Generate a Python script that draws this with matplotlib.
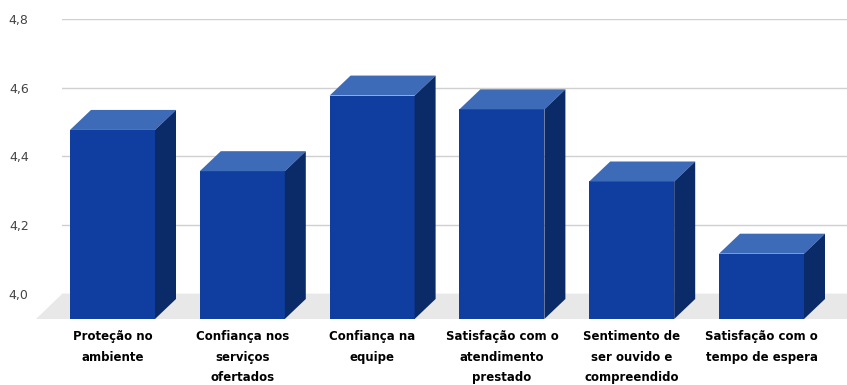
import matplotlib
matplotlib.use("Agg")
import matplotlib.pyplot as plt
from matplotlib.patches import Polygon

# data
categories = ["Proteção no\nambiente", "Confiança nos\nserviços\nofertados",
              "Confiança na\nequipe", "Satisfação com o\natendimento\nprestado",
              "Sentimento de\nser ouvido e\ncompreendido", "Satisfação com o\ntempo de espera"]
values = [4.55, 4.43, 4.65, 4.61, 4.40, 4.19]
yticks = [4.0, 4.2, 4.4, 4.6, 4.8]
ytick_labels = ["4,0", "4,2", "4,4", "4,6", "4,8"]

W, H = 847, 385
front_col = "#0f3ea0"
top_col = "#3e6bb8"
side_col = "#0b2b68"

fig = plt.figure(figsize=(W / 100, H / 100), dpi=100)
# axes = back wall, 4.0 at y=294px, 4.8 at y=19px
ax = fig.add_axes([62 / W, (H - 294) / H, (W - 62) / W, 275 / H])
ax.set_ylim(4.0, 4.8)
step = 129.8            # px between bars
c0 = 112.5              # px centre of first bar front
ax.set_xlim((62 - c0) / step, (W - c0) / step)

px_x = 1 / step         # one pixel in x data units
px_y = 0.8 / 275        # one pixel in y data units

# floor
fd = 25
floor = Polygon([(ax.get_xlim()[0], 4.0), (ax.get_xlim()[1] + 25 * px_x, 4.0),
                 (ax.get_xlim()[1], 4.0 - fd * px_y),
                 (ax.get_xlim()[0] - 26 * px_x, 4.0 - fd * px_y)],
                closed=True, fc="#e8e8e8", ec="none", clip_on=False, zorder=1)
ax.add_patch(floor)

half = 42.5 * px_x
ddx, ddy = 21 * px_x, 20 * px_y
for i, v in enumerate(values):
    x0, x1 = i - half, i + half
    yb = 4.0 - fd * px_y
    yt = v - fd * px_y
    front = Polygon([(x0, yb), (x1, yb), (x1, yt), (x0, yt)], fc=front_col, ec="none",
                    clip_on=False, zorder=3)
    top = Polygon([(x0, yt), (x1, yt), (x1 + ddx, yt + ddy), (x0 + ddx, yt + ddy)],
                  fc=top_col, ec="none", clip_on=False, zorder=3)
    side = Polygon([(x1, yb), (x1 + ddx, yb + ddy), (x1 + ddx, yt + ddy), (x1, yt)],
                   fc=side_col, ec="none", clip_on=False, zorder=3)
    for p in (front, top, side):
        ax.add_patch(p)

ax.set_yticks(yticks)
ax.set_yticklabels(ytick_labels, fontsize=9, color="#444444")
ax.tick_params(axis="y", length=0, pad=24)
ax.grid(axis="y", color="#d0d0d0", linewidth=1, zorder=0)
ax.set_axisbelow(True)

ax.set_xticks(range(len(categories)))
ax.set_xticklabels(categories, fontsize=8.5, fontweight="bold", color="black",
                   linespacing=1.75)
ax.tick_params(axis="x", length=0, pad=26)

for s in ax.spines.values():
    s.set_visible(False)

fig.savefig("out.png", dpi=100)
